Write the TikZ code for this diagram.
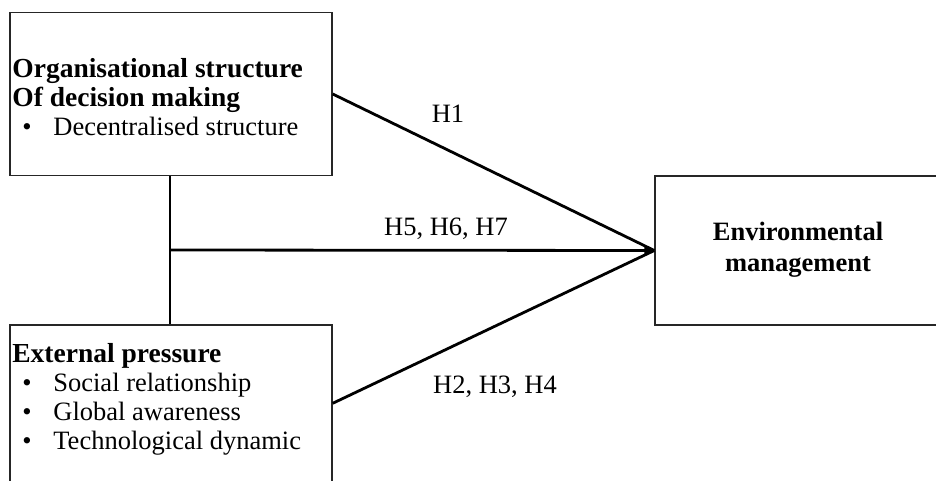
\documentclass[tikz,border=0pt]{standalone}
\usepackage{fontspec}
\setmainfont{Liberation Serif}
\usetikzlibrary{arrows.meta,calc}
\newcommand\bulitem{\makebox[20.5pt][l]{\hspace{5pt}•}}
\begin{document}
\begin{tikzpicture}[x=0.5pt,y=-0.5pt,
  boxstyle/.style={draw=black!85,line width=0.7pt,rectangle,inner sep=0pt},
  txt/.style={inner sep=0pt,font={\fontsize{13.25}{14.5}\selectfont}},
  conn/.style={draw=black,line width=1.4pt},
  lbl/.style={inner sep=0pt,anchor=base,font={\fontsize{13.25}{14.5}\selectfont}}]
\clip (0,0) rectangle (936,481);
\fill[white] (0,0) rectangle (936,481);
\node[boxstyle,minimum width=161pt,minimum height=81.5pt] (box1) at (171,94) {};
\node[boxstyle,minimum width=161pt,minimum height=87.5pt] (box2) at (171,412.5) {};
\node[boxstyle,minimum width=143pt,minimum height=74.5pt] (box3) at (798,250.5) {};
\node[txt,anchor=north west,align=left] (t1) at (12,58)
  {\textbf{\fontsize{13.75}{14.5}\selectfont Organisational structure}\\\textbf{\fontsize{13.75}{14.5}\selectfont Of decision making}\\\bulitem Decentralised structure};
\node[txt,anchor=north west,align=left] (t2) at (12,343)
  {\textbf{\fontsize{13.75}{14.5}\selectfont External pressure}\\\bulitem Social relationship\\\bulitem Global awareness\\\bulitem Technological dynamic};
\node[txt,align=center,font={\fontsize{13.25}{15.5}\selectfont\bfseries}] (t3) at (798,250) {Environmental\\management};
\coordinate (vx) at (170,250);
\coordinate (b2e) at ($(box2.north east)+(0,79)$);
\draw[conn] (box1.south -| vx) -- (box2.north -| vx);
\draw[conn] (box1.east) -- (box3.west);
\draw[conn] (b2e) -- (box3.west);
\draw[conn,-{Triangle[length=5pt,width=5pt]}] (vx) -- (box3.west);
\node[lbl] (h1) at (448,123) {H1};
\node[lbl] (h567) at (446,235) {H5, H6, H7};
\node[lbl] (h234) at (495,393) {H2, H3, H4};
\end{tikzpicture}
\end{document}
